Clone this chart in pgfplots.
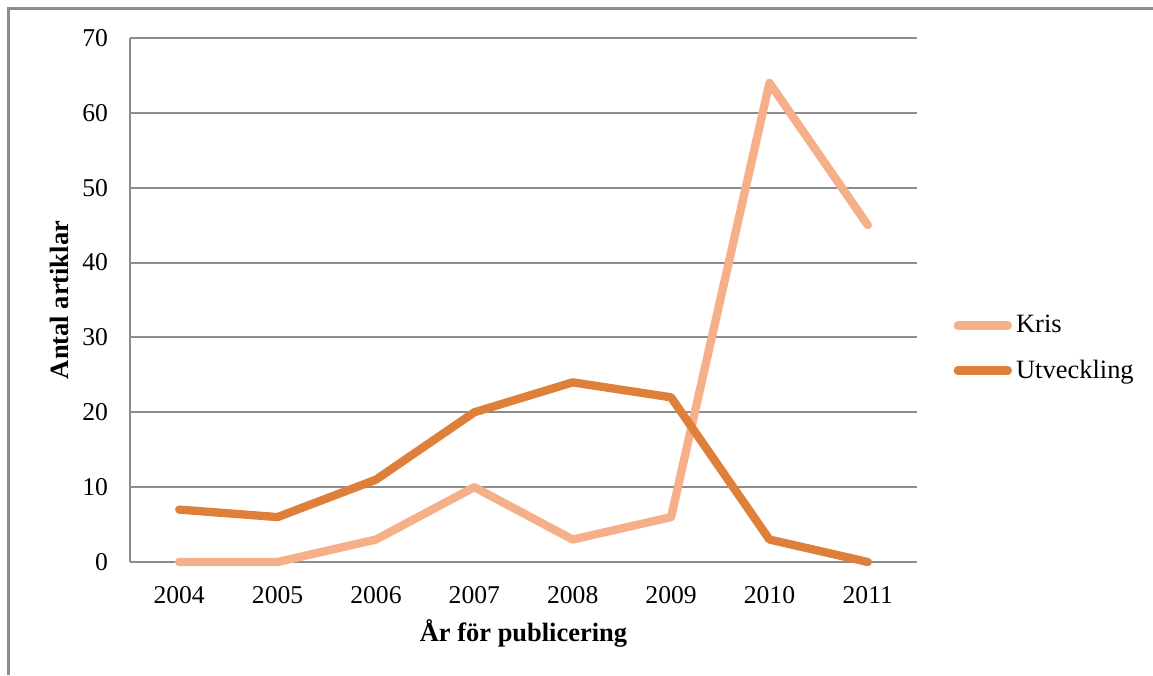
\documentclass[border=0pt]{standalone}
\usepackage{pgfplots}
\pgfplotsset{compat=1.18}
\usepackage{fontspec}
\setmainfont{Liberation Serif}
\definecolor{kris}{HTML}{F5B08A}
\definecolor{utv}{HTML}{DE8039}
\definecolor{gridgray}{HTML}{8C8C8C}
\begin{document}
\begin{tikzpicture}
\begin{axis}[
  name=main,
  at={(0pt,0pt)}, anchor=south west,
  width=377.76pt, height=251.52pt, scale only axis,
  xmin=-0.5, xmax=7.5, ymin=0, ymax=70,
  xtick={0,1,2,3,4,5,6,7},
  xticklabels={2004,2005,2006,2007,2008,2009,2010,2011},
  ytick={0,10,20,30,40,50,60,70},
  axis x line*=bottom, axis y line*=left,
  axis line style={gridgray, line width=1pt, -},
  ymajorgrids, grid style={gridgray, line width=1pt},
  major tick length=0pt,
  tick style={draw=none},
  /pgf/number format/assume math mode=true,
  tick label style={font=\fontsize{12.3}{14}\selectfont},
  xticklabel style={yshift=-8pt},
  yticklabel style={xshift=-7pt},
  xlabel={\textbf{År för publicering}},
  ylabel={\textbf{Antal artiklar}},
  label style={font=\fontsize{12.7}{15}\selectfont},
  xlabel style={at={(axis description cs:0.5,-0.1355)}, anchor=center},
  ylabel style={at={(axis description cs:-0.0902,0.5)}, anchor=center},
  clip=false,
  legend style={draw=none, fill=none, at={(1.046,0.408)}, anchor=west,
    inner sep=0pt, row sep=7.5pt, font=\fontsize{12.7}{14}\selectfont,
    /tikz/every even column/.append style={column sep=0pt}},
  legend cell align=left,
  legend image code/.code={\draw[#1, line cap=round] (0pt,0pt) -- (24pt,0pt);},
]
\addplot[kris, line width=4pt, line cap=round, line join=round] coordinates {
(0,0) (1,0) (2,3) (3,10) (4,3) (5,6) (6,64) (7,45)};
\addlegendentry{Kris}
\addplot[utv, line width=4pt, line cap=round, line join=round] coordinates {
(0,7) (1,6) (2,11) (3,20) (4,24) (5,22) (6,3) (7,0)};
\addlegendentry{Utveckling}
\end{axis}
\draw[gridgray, line width=1pt] (-58.3pt,-54.24pt) -- (-58.3pt,265.68pt) -- (491.04pt,265.68pt);
\pgfresetboundingbox
\path[use as bounding box] (-62.4pt,-54.24pt) rectangle (491.04pt,269.76pt);
\end{tikzpicture}
\end{document}
